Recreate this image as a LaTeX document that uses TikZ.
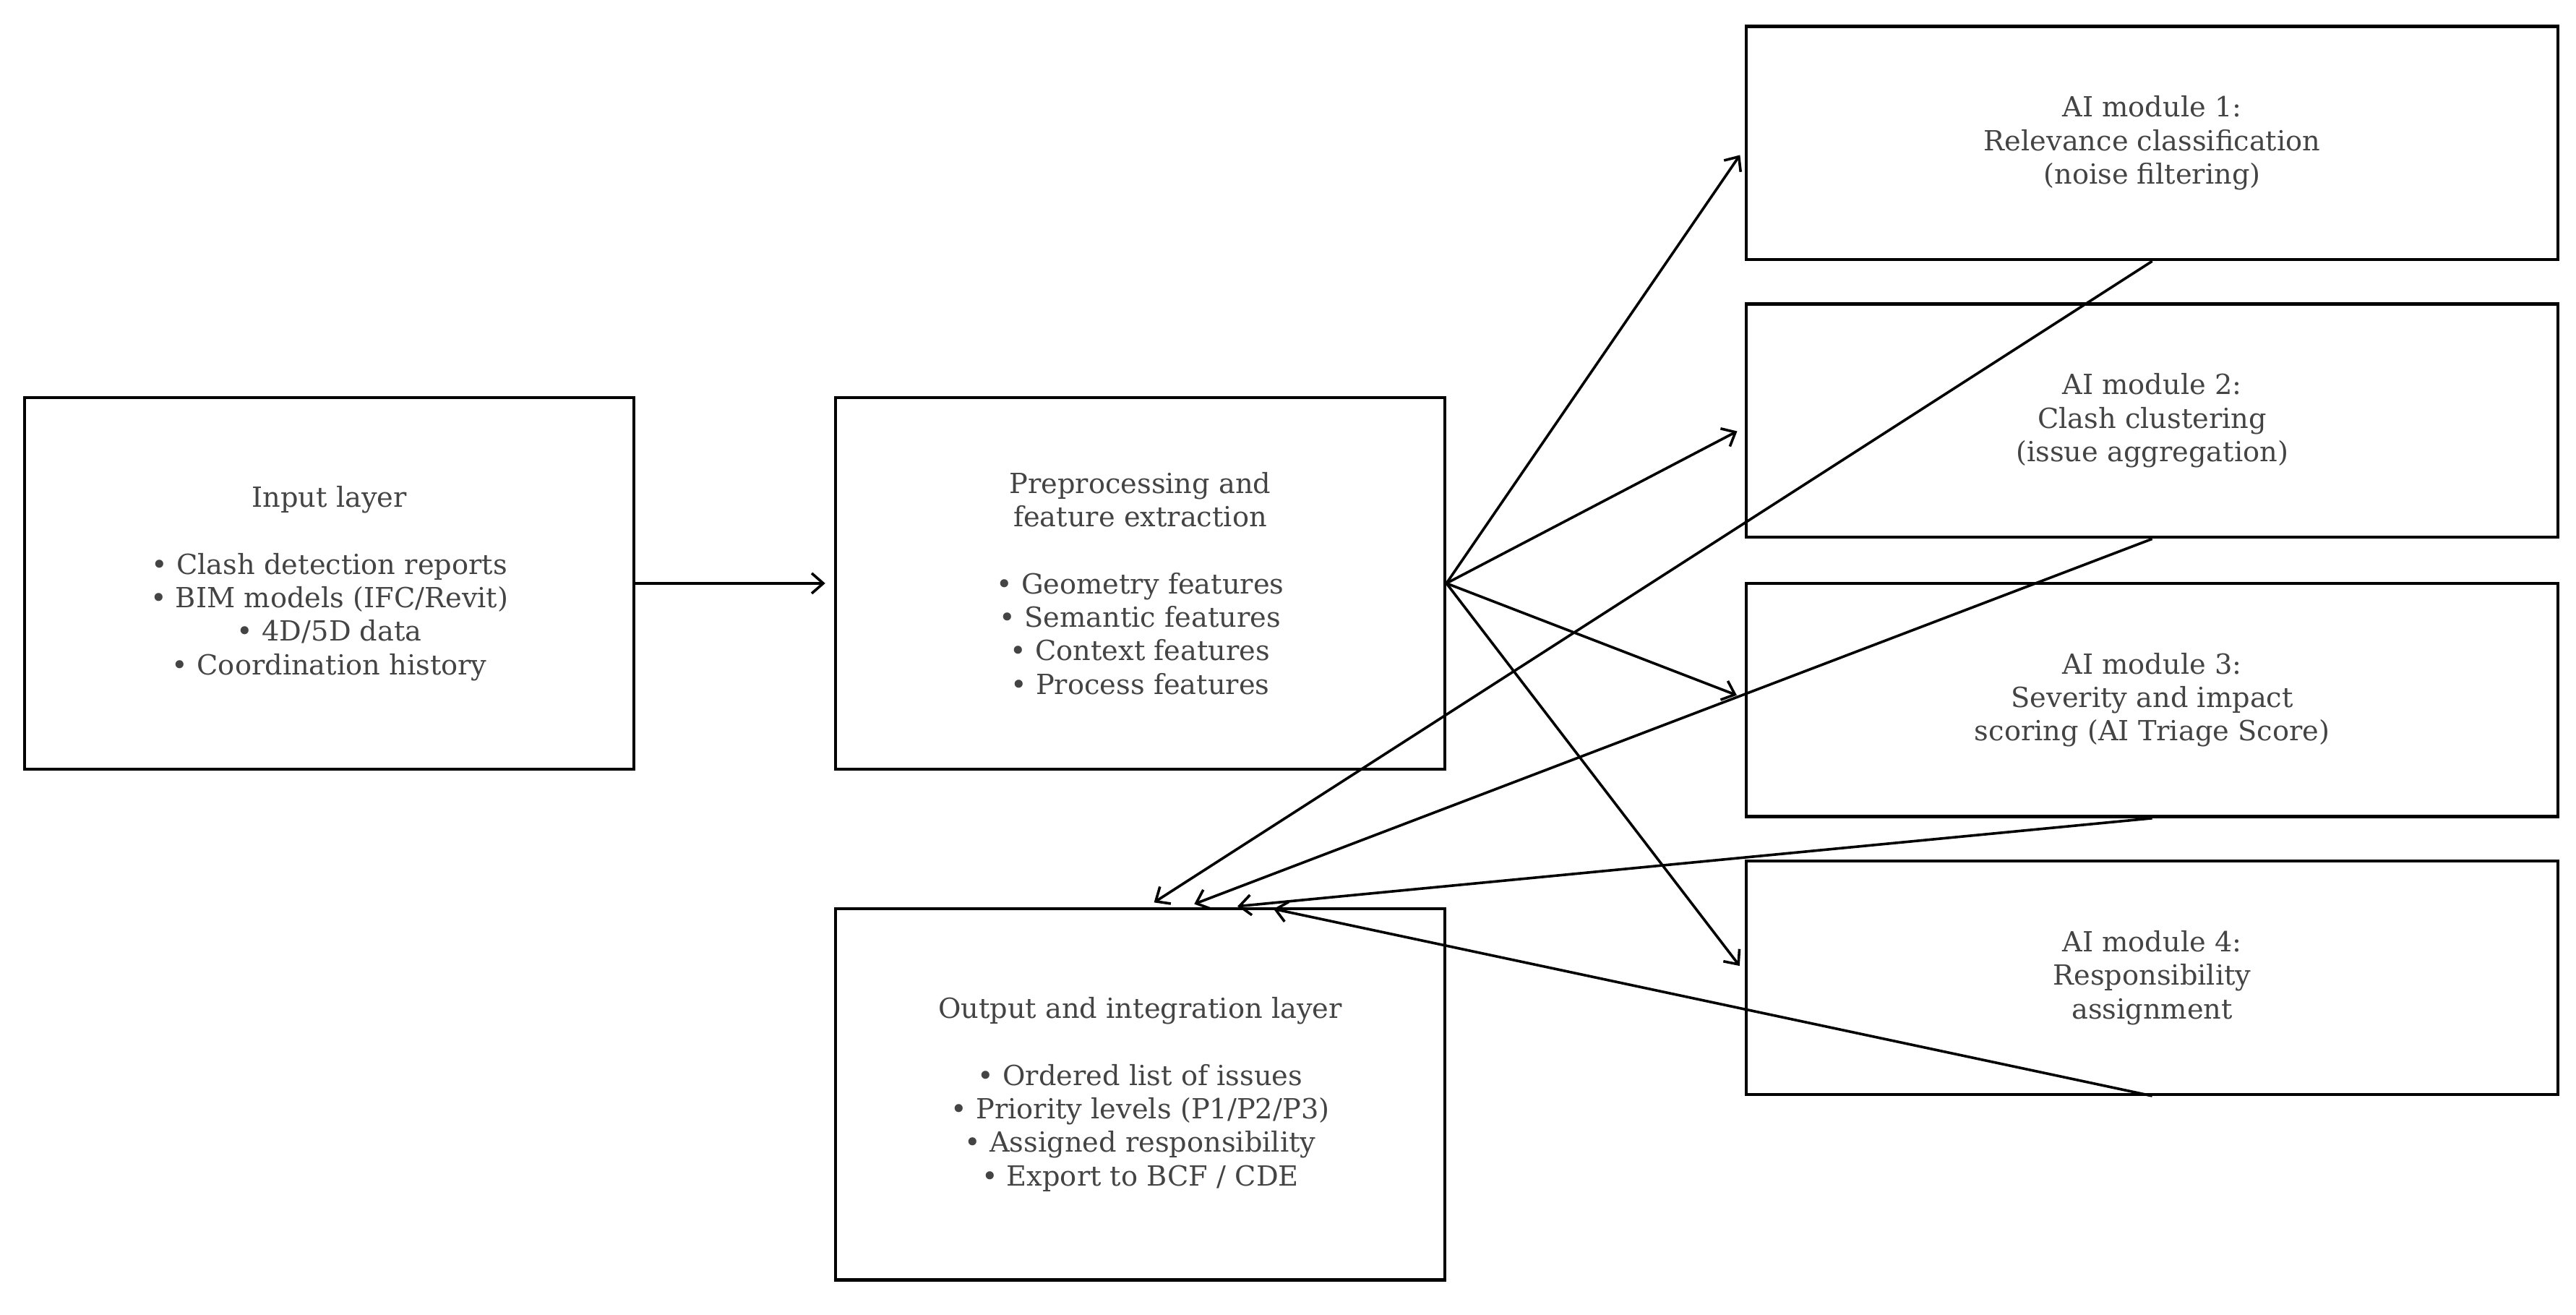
\documentclass[tikz,border=0pt]{standalone}
\usepackage{fontspec}
\setmainfont{DejaVu Serif}
\usetikzlibrary{positioning,calc,arrows.meta}
\definecolor{txt}{HTML}{444444}

\begin{document}
\begin{tikzpicture}[x=0.02cm,y=-0.02cm,
  box/.style={draw=black,line width=1.1pt,align=center,text=txt,
    font=\fontsize{9.6}{11.6}\selectfont,inner sep=0pt},
  layer/.style={box,minimum width=7.42cm,minimum height=4.52cm},
  module/.style={box,minimum width=9.88cm,minimum height=2.84cm},
  flow/.style={-{Straight Barb[length=4pt,width=7pt]},line width=0.9pt,shorten >=3pt}]
\useasboundingbox (0,0) rectangle (1568,800);

% layers
\node[layer] (inp) at (200.5,355) {Input layer\\[11.6pt]
  • Clash detection reports\\ • BIM models (IFC/Revit)\\ • 4D/5D data\\ • Coordination history};
\node[layer] (pre) at (694,355) {Preprocessing and\\ feature extraction\\[11.6pt]
  • Geometry features\\ • Semantic features\\ • Context features\\ • Process features};
\node[layer] (out) at (694,666) {Output and integration layer\\[11.6pt]
  • Ordered list of issues\\ • Priority levels (P1/P2/P3)\\ • Assigned responsibility\\ • Export to BCF / CDE};

% AI modules
\node[module] (m1) at (1310,87) {AI module 1:\\ Relevance classification\\ (noise filtering)};
\node[module] (m2) at (1310,256) {AI module 2:\\ Clash clustering\\ (issue aggregation)};
\node[module] (m3) at (1310,426) {AI module 3:\\ Severity and impact\\ scoring (AI Triage Score)};
\node[module] (m4) at (1310,595) {AI module 4:\\ Responsibility\\ assignment};

% forward flow
\draw[flow] (inp.east) -- (pre.west);
\foreach \m/\dy in {m1/3,m2/4,m3/-1,m4/-3}
  \draw[flow] (pre.east) -- ($(\m.west)+(0,\dy)$);

% back to output
\foreach \m/\dx in {m1/4,m2/28,m3/54,m4/76}
  \draw[flow] (\m.south) -- ($(out.north)+(\dx,0)$);
\end{tikzpicture}
\end{document}
